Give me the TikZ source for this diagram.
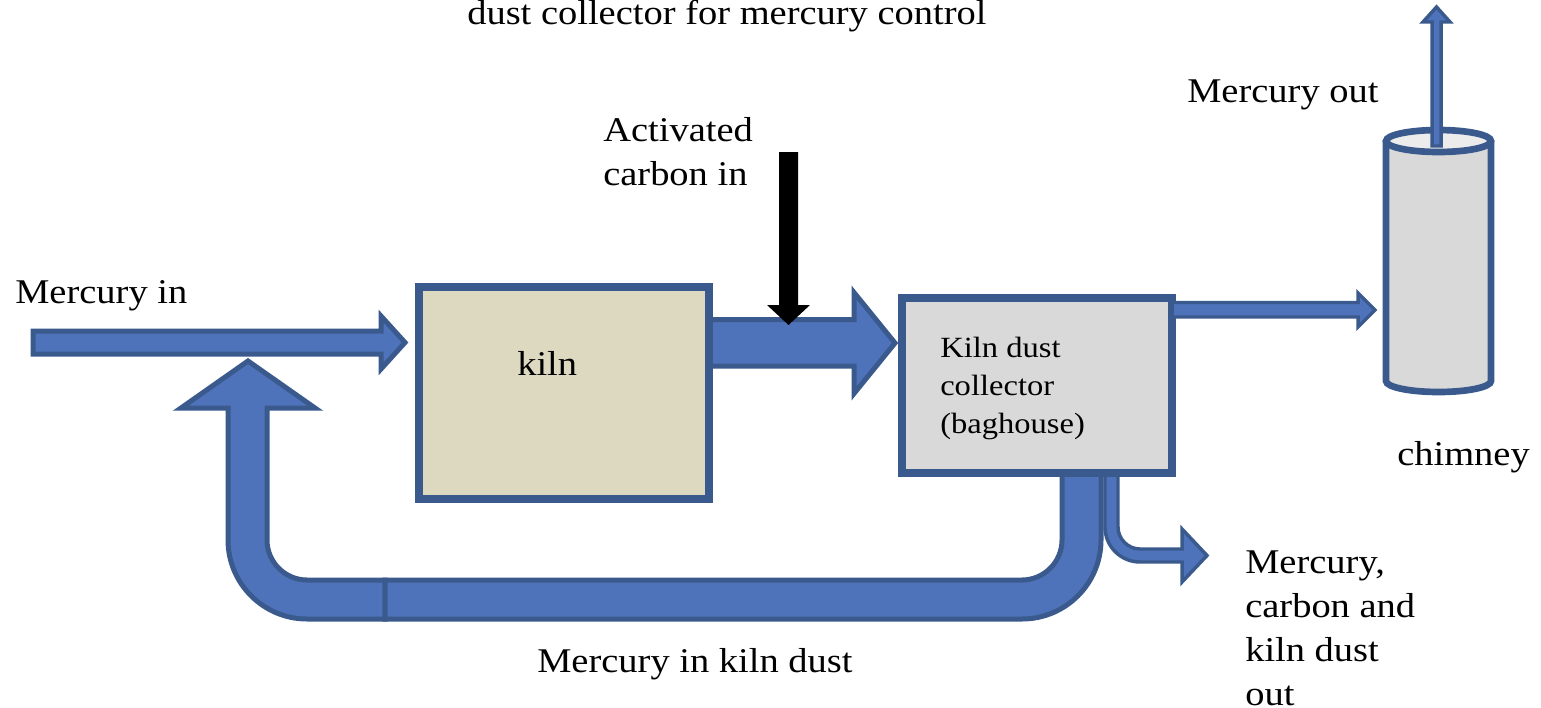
\documentclass[tikz,border=0pt]{standalone}
\usepackage{fontspec}
\setmainfont[FakeStretch=1.11]{Liberation Serif}
\definecolor{arrowfill}{HTML}{4F73BA}
\definecolor{arrowline}{HTML}{3A5A8E}
\definecolor{kilnfill}{HTML}{DCD9C0}
\definecolor{grayfill}{HTML}{D9D9D9}
\tikzset{
  blockarrow/.style={fill=arrowfill, draw=arrowline, line width=3.75pt, line join=miter},
  thinarrow/.style={fill=arrowfill, draw=arrowline, line width=2.6pt, line join=miter},
  unitbox/.style={draw=arrowline, line width=6pt, inner sep=0pt},
  bigtext/.style={inner sep=0pt, font=\fontsize{26}{33}\selectfont, align=left},
  smalltext/.style={inner sep=0pt, font=\fontsize{22}{28.5}\selectfont, align=left}
}
\begin{document}
\begin{tikzpicture}[x=0.75pt,y=-0.75pt]
\useasboundingbox (0,0) rectangle (1541,707);

% return flow (left bent up-arrow)
\draw[blockarrow] (385,580) -- (307,580)
  .. controls (285,580) and (267,562) .. (267,540)
  -- (267,408) -- (315,408) -- (248,361) -- (181,408) -- (228,408) -- (228,540)
  .. controls (228,583.6) and (263.4,619) .. (307,619)
  -- (385,619) -- cycle;

% small branch out of the collector
\draw[thinarrow] (1105,470) -- (1105,527)
  .. controls (1105,546.3) and (1120.7,562) .. (1140,562)
  -- (1182,562) -- (1182,582) -- (1207,555.5) -- (1182,529) -- (1182,549) -- (1140,549)
  .. controls (1128,549) and (1118,539) .. (1118,527)
  -- (1118,470) -- cycle;

% return flow (bottom band bending up to collector)
\draw[blockarrow] (385,580) -- (1022,580)
  .. controls (1044,580) and (1062,562) .. (1062,540)
  -- (1062,470) -- (1101,470) -- (1101,540)
  .. controls (1101,583.6) and (1065.6,619) .. (1022,619)
  -- (385,619) -- cycle;

% mercury in
\draw[blockarrow] (33,331) -- (381,331) -- (381,316) -- (405,342.5) -- (381,369) -- (381,354) -- (33,354) -- cycle;

% kiln -> collector
\draw[blockarrow] (709,319.5) -- (854,319.5) -- (854,292.5) -- (895,343) -- (854,393.5) -- (854,366) -- (709,366) -- cycle;

% activated carbon in
\fill[black] (779,152) -- (798,152) -- (798,305) -- (810,305) -- (788.5,325) -- (767,305) -- (779,305) -- cycle;

% boxes
\node[unitbox, fill=kilnfill, minimum width=217.5pt, minimum height=159pt] (kiln) at (564,393) {};
\node[unitbox, fill=grayfill, minimum width=202.5pt, minimum height=131.25pt] (collector) at (1037,385.5) {};

% collector -> chimney
\draw[thinarrow] (1172,302.5) -- (1358,302.5) -- (1358,293) -- (1375,310) -- (1358,327) -- (1358,317) -- (1172,317) -- cycle;

% chimney
\fill[grayfill] (1386,141) rectangle (1491,381);
\fill[grayfill] (1438.5,381) ellipse [x radius=52.5, y radius=11];
\draw[draw=arrowline, line width=5pt] (1386,141) -- (1386,381)
  arc[start angle=180, end angle=360, x radius=39.375pt, y radius=8.25pt] -- (1491,141);
\draw[draw=arrowline, fill=grayfill!50!white, line width=5pt] (1438.5,141) ellipse [x radius=52.5, y radius=11];
\coordinate (chimneytop) at (1436,141);

% mercury out
\draw[thinarrow] (1432,146) -- (1432,22) -- (1423,22) -- (1436.5,7) -- (1450,22) -- (1441,22) -- (1441,146) -- cycle;

% texts
\node[bigtext, anchor=base west] (title) at (467,24) {dust collector for mercury control};
\node[bigtext, anchor=base west] (hgout) at (1187,102) {Mercury out};
\node[bigtext, anchor=base west] (carbon) at (603,185) {Activated\\carbon in};
\node[bigtext, anchor=base west] (hgin) at (15,303) {Mercury in};
\node[bigtext, anchor=base west] (kilnlabel) at (517,375) {kiln};
\node[smalltext, anchor=base west] (colllabel) at (940,433) {Kiln dust\\collector\\(baghouse)};
\node[bigtext, anchor=base west] (chimney) at (1397,465) {chimney};
\node[bigtext, anchor=base west] (dust) at (537,672) {Mercury in kiln dust};
\node[bigtext, anchor=base west] (hgcarbon) at (1245,705) {Mercury,\\carbon and\\kiln dust\\out};
\end{tikzpicture}
\end{document}
